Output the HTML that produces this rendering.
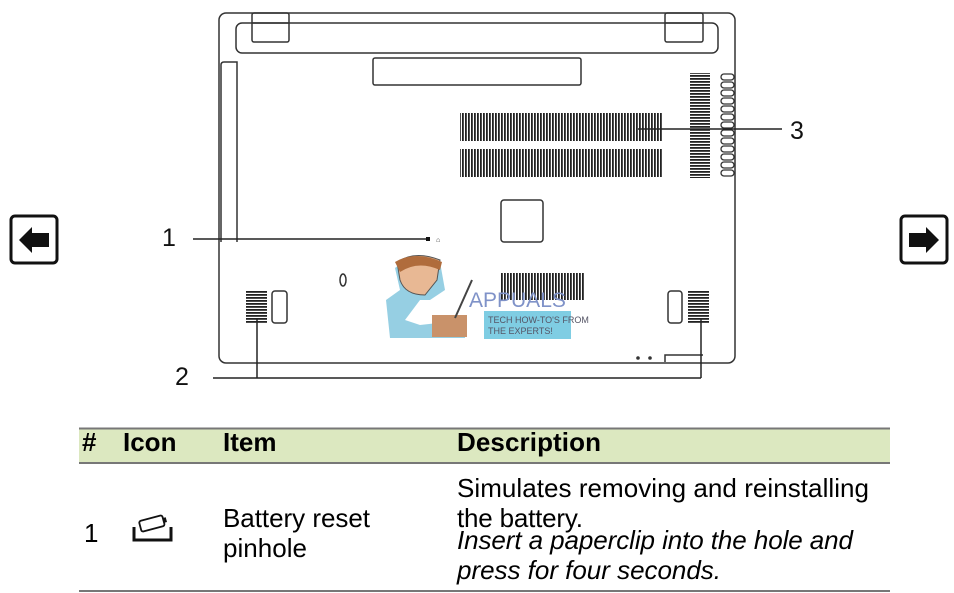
<!DOCTYPE html>
<html><head><meta charset="utf-8"><style>
html,body{margin:0;padding:0;background:#fff;}
svg{display:block;font-family:"Liberation Sans",Arial,sans-serif;}
</style></head><body>
<svg width="954" height="593" viewBox="0 0 954 593" xmlns="http://www.w3.org/2000/svg">
<defs>
<pattern id="vs" width="3" height="10" patternUnits="userSpaceOnUse"><rect x="0" y="0" width="1.8" height="10" fill="#222"/></pattern>
<pattern id="hs" width="10" height="3" patternUnits="userSpaceOnUse"><rect x="0" y="0" width="10" height="1.8" fill="#222"/></pattern>
</defs>
<rect width="954" height="593" fill="#fff"/>
<g fill="none" stroke="#111" stroke-width="3">
<rect x="11" y="216" width="46" height="47" rx="4"/>
<rect x="901" y="216" width="46" height="47" rx="4"/>
</g>
<polygon points="19,240 32,227 32,233 49,233 49,247 32,247 32,253" fill="#111"/>
<polygon points="939,240 926,227 926,233 909,233 909,247 926,247 926,253" fill="#111"/>
<g fill="none" stroke="#333" stroke-width="1.5">
<rect x="219" y="13" width="516" height="350" rx="7"/>
<rect x="236" y="23" width="482" height="30" rx="6"/>
<rect x="252" y="13" width="37" height="29" rx="2"/>
<line x1="252" y1="23" x2="289" y2="23"/>
<rect x="665" y="13" width="38" height="29" rx="2"/>
<line x1="665" y1="23" x2="703" y2="23"/>
<rect x="373" y="58" width="208" height="27" rx="2"/>
<path d="M221,242 V65 Q221,62 224,62 H237 V242"/>
<rect x="501" y="200" width="42" height="42" rx="3"/>
<rect x="272" y="291" width="15" height="32" rx="3"/>
<rect x="668" y="291" width="14" height="32" rx="3"/>
<ellipse cx="343" cy="280" rx="3" ry="6"/>
<path d="M665,362 V355 H703"/>
</g>
<g fill="none" stroke="#333" stroke-width="1.3">
<rect x="721" y="74" width="13" height="6" rx="3"/><rect x="721" y="82" width="13" height="6" rx="3"/>
<rect x="721" y="90" width="13" height="6" rx="3"/><rect x="721" y="98" width="13" height="6" rx="3"/>
<rect x="721" y="106" width="13" height="6" rx="3"/><rect x="721" y="114" width="13" height="6" rx="3"/>
<rect x="721" y="122" width="13" height="6" rx="3"/><rect x="721" y="130" width="13" height="6" rx="3"/>
<rect x="721" y="138" width="13" height="6" rx="3"/><rect x="721" y="146" width="13" height="6" rx="3"/>
<rect x="721" y="154" width="13" height="6" rx="3"/><rect x="721" y="162" width="13" height="6" rx="3"/>
<rect x="721" y="170" width="13" height="6" rx="3"/>
</g>
<rect x="460" y="113" width="203" height="28" fill="url(#vs)"/>
<rect x="460" y="149" width="203" height="28" fill="url(#vs)"/>
<rect x="501" y="273" width="84" height="27" fill="url(#vs)"/>
<rect x="690" y="73" width="20" height="105" fill="url(#hs)"/>
<rect x="246" y="290" width="21" height="33" fill="url(#hs)"/>
<rect x="688" y="290" width="21" height="33" fill="url(#hs)"/>
<circle cx="638" cy="358" r="1.8" fill="#333"/><circle cx="650" cy="358" r="1.8" fill="#333"/>
<rect x="484" y="311" width="87" height="28" fill="#7fcde3"/>
<text x="469" y="307" font-size="21" fill="#7f92c8">APPUALS</text>
<text x="488" y="323" font-size="9" fill="#556">TECH HOW-TO'S FROM</text>
<text x="488" y="334" font-size="9" fill="#556">THE EXPERTS!</text>
<path d="M395,268 Q410,255 440,262 L445,290 L430,300 L420,300 L405,320 L420,325 L465,320 L465,338 L390,338 L386,300 L400,290 Z" fill="#7cc3dc" opacity="0.8"/>
<path d="M397,262 Q415,250 440,260 L437,280 L425,295 Q405,295 400,280 Z" fill="#e8b894" stroke="#555" stroke-width="1"/>
<path d="M395,262 Q415,250 442,262 L440,270 Q418,260 400,272 Z" fill="#b06c3c"/>
<rect x="432" y="315" width="35" height="22" fill="#c9926a"/>
<line x1="455" y1="318" x2="472" y2="280" stroke="#444" stroke-width="2"/>
<g stroke="#222" stroke-width="1.5" fill="none">
<line x1="193" y1="239" x2="428" y2="239"/>
<line x1="638" y1="129" x2="782" y2="129"/>
<polyline points="213,378 701,378"/>
<line x1="257" y1="318" x2="257" y2="378"/>
<line x1="701" y1="318" x2="701" y2="378"/>
</g>
<rect x="426" y="237" width="4" height="4" fill="#111"/>
<text x="436" y="242" font-size="7" fill="#333">⌂</text>
<g font-size="25" fill="#111">
<text x="162" y="246">1</text>
<text x="175" y="385">2</text>
<text x="790" y="139">3</text>
</g>
<rect x="79" y="428" width="811" height="35" fill="#dce8c0"/>
<line x1="79" y1="428.5" x2="890" y2="428.5" stroke="#777" stroke-width="2"/>
<line x1="79" y1="463" x2="890" y2="463" stroke="#777" stroke-width="2"/>
<line x1="79" y1="591" x2="890" y2="591" stroke="#777" stroke-width="2"/>
<g font-size="26" font-weight="bold" fill="#000">
<text x="82" y="451">#</text>
<text x="123" y="451">Icon</text>
<text x="223" y="451">Item</text>
<text x="457" y="451" textLength="144">Description</text>
</g>
<g font-size="26" fill="#000">
<text x="84" y="542">1</text>
<text x="223" y="527" textLength="147">Battery reset</text>
<text x="223" y="557" textLength="84">pinhole</text>
<text x="457" y="497" textLength="412">Simulates removing and reinstalling</text>
<text x="457" y="527" textLength="126">the battery.</text>
<text x="457" y="549" font-style="italic" textLength="396">Insert a paperclip into the hole and</text>
<text x="457" y="579" font-style="italic" textLength="264">press for four seconds.</text>
</g>
<path d="M134,527 V540 H171 V527" fill="none" stroke="#111" stroke-width="3"/>
<g transform="rotate(-15 152 524)"><rect x="140" y="518" width="24" height="11" rx="2" fill="#fff" stroke="#111" stroke-width="1.8"/><rect x="164" y="521" width="3" height="5" fill="#111"/></g>
</svg>
</body></html>
